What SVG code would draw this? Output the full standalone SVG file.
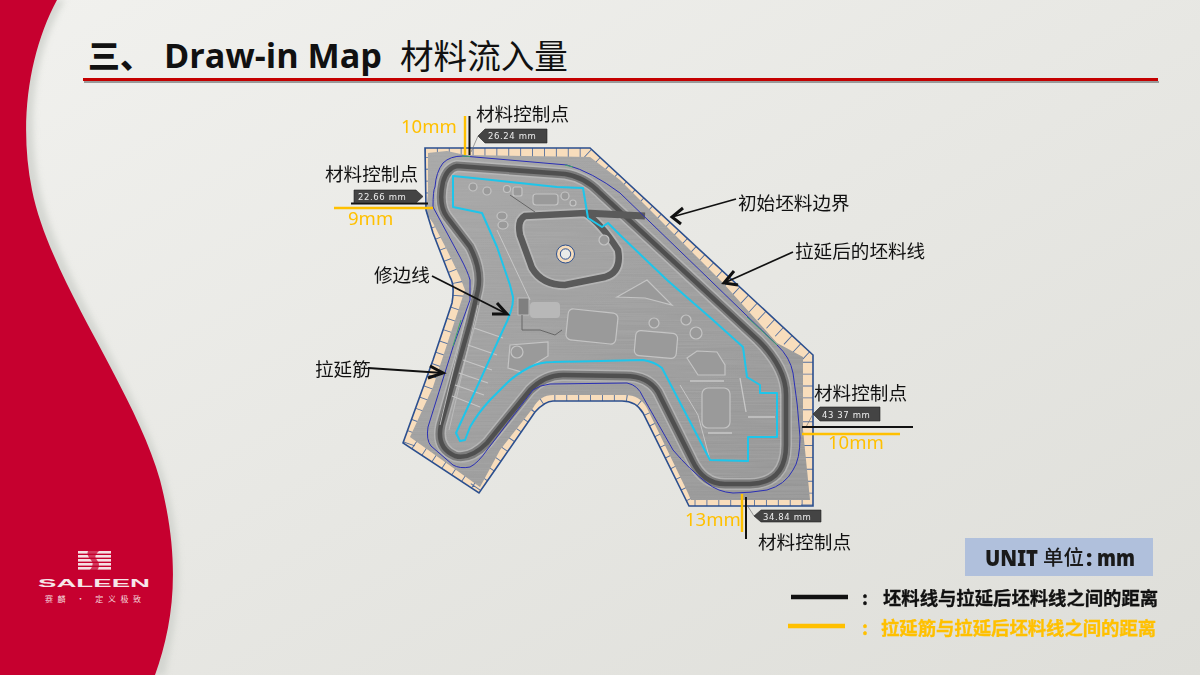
<svg xmlns="http://www.w3.org/2000/svg" xmlns:xlink="http://www.w3.org/1999/xlink" width="1200" height="675" viewBox="0 0 1200 675">
<style>
text{font-family:"Liberation Sans","Noto Sans CJK SC",sans-serif}
.cn{font-family:"Noto Sans CJK SC",sans-serif;font-size:18.6px;fill:#111}
.dim{font-family:"Noto Sans","Noto Sans CJK SC",sans-serif;font-size:18.5px;fill:#ffc000}
.tag{fill:#444;stroke:#222;stroke-width:.6}
.tagt{font-family:"DejaVu Sans",sans-serif;font-size:8.5px;fill:#eee;letter-spacing:.6px}
.lead{stroke:#777;stroke-width:.7;fill:none}
.k{stroke:#111;stroke-width:2;fill:none}
.o{stroke:#ffc000;stroke-width:2.4;fill:none}
.ar{stroke:#111;stroke-width:1.8;fill:none}
.hd{stroke:#111;stroke-width:3;fill:none}
.leg{font-family:"Noto Sans CJK SC",sans-serif;font-size:18.35px;font-weight:700;stroke-width:.3}
.emb{fill:#9a9a9a;stroke:#c4c4c4;stroke-width:1.2}
.emd{fill:none;stroke:#666;stroke-width:1}
.grn{fill:none;stroke:#3fa66a;stroke-width:1}
.ut{font-family:"Noto Sans",sans-serif;font-size:22px;font-weight:900;fill:#1a1a1a}
</style>
<defs>
<linearGradient id="bg" x1="0" y1="0" x2="1" y2="1"><stop offset="0" stop-color="#f1f1ee"/><stop offset="1" stop-color="#deded9"/></linearGradient>
<linearGradient id="sheet" x1="0" y1="0" x2="1" y2="1"><stop offset="0" stop-color="#a8a8a8"/><stop offset="1" stop-color="#959595"/></linearGradient>
<filter id="brush" x="0" y="0" width="100%" height="100%"><feTurbulence type="fractalNoise" baseFrequency="0.012 0.7" numOctaves="2" seed="4" result="n"/><feColorMatrix in="n" type="matrix" values="0 0 0 0 .45  0 0 0 0 .45  0 0 0 0 .45  .6 0 0 0 -.16" result="c"/><feComposite in="c" in2="SourceGraphic" operator="in" result="t"/><feMerge><feMergeNode in="SourceGraphic"/><feMergeNode in="t"/></feMerge></filter>
<filter id="soft" x="-10%" y="-10%" width="120%" height="120%"><feGaussianBlur stdDeviation=".6"/></filter>
<filter id="soft1" x="-10%" y="-10%" width="120%" height="120%"><feGaussianBlur stdDeviation=".4"/></filter>
<filter id="soft2" x="-20%" y="-20%" width="140%" height="140%"><feGaussianBlur stdDeviation="3"/></filter>
<path id="outer" d="M425,148 L590,148 L813,355 L813,506 L689,506 L643,413 Q636,401 622,401 L553,401 Q545,401 535,412 L497,467 L479,493 L403,443 L433,360 L452,303 Q455,285 450,277 L433,233 L426,210 Z"/>
<path id="inner" d="M428,153 L447,151 L465,155 L590,157 L620,180 L723,283 L777,343 L803,357 L803,430 L810,500 L691,500 L688,493 L647,408 Q640,395 625,395 L553,395 Q540,395 533,408 L500,450 L480,487 L410,437 L433,387 L465,290 L460,277 L447,250 L433,223 L426,213 L428,193 Z"/>
<path id="bead" d="M457,166 L565,174 Q585,177 600,193 L700,286 L758,340 Q786,368 786,395 L786,445 Q786,483 750,484 L725,484 Q703,484 692,460 L658,392 Q648,376 625,376 L563,375 Q545,375 530,390 L487,443 Q470,460 455,456 Q436,448 441,425 L470,323 L478,290 Q482,270 470,247 L447,217 Q438,205 443,182 Q447,168 457,166 Z"/>
<path id="ring" d="M525,216 L585,213 Q600,222 618,250 Q622,272 605,277 L565,285 Q542,285 532,268 L520,235 Q517,220 525,216 Z"/>
<clipPath id="oc"><use xlink:href="#outer"/></clipPath>
<clipPath id="ic"><use xlink:href="#inner"/></clipPath>
</defs>
<rect width="1200" height="675" fill="url(#bg)"/>
<path d="M65,0 C35,50 25,120 40,190 C60,280 140,390 165,480 C190,570 175,625 165,675 L0,675 L0,0 Z" fill="#cfd1cc" filter="url(#soft2)" opacity=".8"/>
<path id="red" d="M57,0 C30,50 18,120 32,190 C50,280 135,390 160,480 C182,565 173,625 155,675 L0,675 L0,0 Z" fill="#c6002f"/>

<g id="logo">
<g fill="#f5dfe3"><rect x="78" y="551" width="33" height="2.6"/><rect x="78" y="555" width="33" height="2.6"/><rect x="78" y="559" width="33" height="2.6"/><rect x="78" y="563" width="33" height="2.6"/><rect x="78" y="567" width="33" height="2.6"/></g>
<path d="M88,551 L99,551 Q93,556 97,560 Q101,565 97,571 L89,571 Q95,565 91,560 Q86,555 88,551 Z" fill="#c6002f" opacity=".75"/>
<text x="38" y="587" textLength="112" lengthAdjust="spacingAndGlyphs" style="font-family:'Liberation Sans',sans-serif;font-size:11px;font-weight:700;fill:#f6e6e9">SALEEN</text>
<text x="45" y="602" style="font-family:'Noto Sans CJK SC',sans-serif;font-size:8px;fill:#f3d7dc" textLength="96">赛麟 · 定义极致</text>
</g>

<g id="title">
<text x="88" y="68" style="font-family:'Noto Sans CJK SC',sans-serif;font-size:32px;font-weight:900;fill:#111">三、</text>
<text x="164" y="68" textLength="218" lengthAdjust="spacingAndGlyphs" style="font-family:'Open Sans',sans-serif;font-size:34px;font-weight:700;fill:#111">Draw-in Map</text>
<text x="400" y="69" style="font-family:'Noto Sans CJK SC',sans-serif;font-size:33.6px;fill:#111">材料流入量</text>
<rect x="84" y="81" width="1075" height="2" fill="#9a9a9a"/>
<rect x="83" y="78" width="1075" height="3" fill="#c40000"/>
</g>

<g id="panel">
<use xlink:href="#outer" fill="#f8ddbc"/>
<g clip-path="url(#oc)"><use xlink:href="#outer" fill="none" stroke="#54709f" stroke-width="24" stroke-dasharray=".9 11"/></g>
<use xlink:href="#inner" fill="url(#sheet)" filter="url(#brush)"/>
<use xlink:href="#outer" fill="none" stroke="#2b4f8f" stroke-width="1.6"/>
<g clip-path="url(#ic)">
<g filter="url(#soft)">
<use xlink:href="#bead" fill="none" stroke="#c2c2c2" stroke-width="12" opacity=".6"/>
<use xlink:href="#bead" fill="none" stroke="#7d7d7d" stroke-width="9"/>
<use xlink:href="#bead" fill="none" stroke="#505050" stroke-width="4.5"/>
<use xlink:href="#ring" fill="none" stroke="#c2c2c2" stroke-width="10" opacity=".6"/>
<use xlink:href="#ring" fill="none" stroke="#5a5a5a" stroke-width="6.5"/>
<path d="M585,213 L645,216" stroke="#5a5a5a" stroke-width="7" fill="none"/>
<path d="M470,300 L440,425 M478,305 L449,430" stroke="#bbb" stroke-width="1" fill="none"/>
</g>
<g id="emboss" filter="url(#soft1)">
<rect x="533" y="194" width="25" height="11" rx="3" class="emb"/>
<circle cx="473" cy="187" r="4" class="emb"/><circle cx="487" cy="191" r="4" class="emb"/><circle cx="507" cy="189" r="3.5" class="emb"/><rect x="513" y="187" width="9" height="9" rx="2" class="emb"/>
<circle cx="565" cy="196" r="4" class="emb"/><circle cx="573" cy="203" r="3" class="emb"/>
<ellipse cx="502" cy="216" rx="5" ry="4" class="emb"/><ellipse cx="503" cy="225" rx="5" ry="4" class="emb"/>
<circle cx="604" cy="240" r="5" class="emb"/>
<rect x="518" y="298" width="11" height="17" fill="#7f7f7f" stroke="#bbb"/>
<rect x="530" y="302" width="30" height="16" rx="4" fill="#b8b8b8" filter="url(#soft)"/>
<path d="M522,315 L522,330 L540,330 L555,335 L562,330" class="emd"/>
<rect x="567" y="311" width="50" height="31" rx="5" class="emb" transform="rotate(6 592 326)"/>
<rect x="635" y="332" width="42" height="25" rx="5" class="emb" transform="rotate(5 656 344)"/>
<path d="M617,297 L647,280 L672,305 L645,298 Z" class="emb"/>
<circle cx="654" cy="323" r="5" class="emb"/><circle cx="686" cy="320" r="5" class="emb"/><circle cx="696" cy="333" r="6" class="emb"/>
<path d="M687,358 L697,351 L717,352 L725,365 L725,375 L698,375 Z" class="emb"/>
<rect x="702" y="388" width="28" height="40" rx="6" class="emb"/>
<path d="M690,381 L724,381 M708,433 L732,433 M740,378 L746,412 M748,417 L775,417" stroke="#c8c8c8" stroke-width="1.3" fill="none"/>
<path d="M510,345 L548,342 L548,356 L522,372 L508,368 Z" class="emb"/><circle cx="517" cy="352" r="6" class="emb"/>
<path d="M452,396 L480,407 M455,385 L484,395 M459,373 L488,383 M463,360 L492,370 M468,345 L497,355 M474,328 L503,338" stroke="#c6c6c6" stroke-width="1.1" fill="none"/>
<path d="M497,230 L530,300 M710,460 L698,415 L680,385" stroke="#d0d0d0" stroke-width=".8" fill="none"/>
<path d="M510,195 L535,212" class="emd"/>
</g>
</g>
<path id="blue" d="M433,207 Q433,190 435,187 Q436,172 443,163 Q450,156 463,156 L567,165 Q592,172 620,193 L710,280 L777,345 Q790,357 793,373 Q798,405 800,437 Q800,460 793,470 Q785,485 767,490 Q750,493 733,493 Q718,492 707,483 Q690,470 673,450 L643,397 Q638,385 627,383 L550,384 Q540,385 533,390 L487,450 Q478,463 470,467 Q460,469 453,465 L431,446 Q426,440 428,427 L453,347 L470,300 L470,280 Q468,272 460,257 Z" fill="none" stroke="#2a2fb5" stroke-width="1"/>
<path class="grn" d="M462,156L470,156.500M565,165L573,167M747,317L777,345M461,320L453,346"/>
<path d="M453,176 L473,178 L557,187 L583,188 L588,218 L602,227 L608,223 L620,235 L667,280 L713,320 L743,347 L747,377 L760,385 L760,393 L777,393 L777,437 L748,437 L748,461 L710,460 L662,368 Q655,362 643,360 L553,362 Q540,362 530,367 Q515,375 507,383 L490,400 Q478,413 470,427 L465,440 L460,441 L456,433 L503,330 Q514,308 513,297 L510,285 L497,247 L482,213 L453,207 Z" fill="none" stroke="#1ec5ea" stroke-width="2" stroke-linejoin="round"/>
<g id="hole"><circle cx="565.5" cy="254" r="9" fill="#f6dcba" stroke="#2b4f8f" stroke-width="1"/><circle cx="565.5" cy="254" r="5.2" fill="#e9ebe9" stroke="#2b4f8f" stroke-width="1"/></g>
</g>

<g id="dim-top">
<path class="o" d="M465,116V155"/><path class="k" d="M469.500,116V155"/>
<path class="lead" d="M478,136L471,152"/>
<text class="cn" x="476" y="121">材料控制点</text>
<text class="dim" x="401" y="133">10mm</text>
<path class="tag" d="M485,129H547V143H485L478,136Z"/><text class="tagt" x="488" y="139">26.24 mm</text>
</g>
<g id="dim-left">
<path class="o" d="M334,208H433"/><path class="k" d="M351,203.500H428"/>
<text class="cn" x="325" y="181">材料控制点</text>
<text class="dim" x="348" y="225">9mm</text>
<path class="tag" d="M354,190H416L423,196.500L416,203H354Z"/><text class="tagt" x="358" y="199.500">22.66 mm</text>
</g>
<g id="dim-right">
<path class="lead" d="M813,414L806,427"/>
<path class="k" d="M802,427H913"/><path class="o" d="M802,434H900"/>
<text class="cn" x="814" y="400">材料控制点</text>
<text class="dim" x="828" y="449">10mm</text>
<path class="tag" d="M820,407H880V421H820L813,414Z"/><text class="tagt" x="822" y="418">43 37 mm</text>
</g>
<g id="dim-bottom">
<path class="lead" d="M754,516L747,505"/>
<path class="o" d="M742,494V532"/><path class="k" d="M746,497V539"/>
<text class="cn" x="758" y="549">材料控制点</text>
<text class="dim" x="685" y="526">13mm</text>
<path class="tag" d="M761,510H821V522H761L754,516Z"/><text class="tagt" x="763" y="519.500">34.84 mm</text>
</g>

<g id="connectors">
<path class="ar" d="M736,199 L672,217"/><path class="hd" d="M683,208 L672,217 L681,224"/>
<path class="ar" d="M793,252 L724,283"/><path class="hd" d="M734,271 L724,283 L738,285"/>
<path class="ar" d="M432,276 L507,314"/><path class="hd" d="M497,303 L507,314 L492,314"/>
<path class="ar" d="M368,368 L443,373"/><path class="hd" d="M430,366 L443,373 L428,378"/>
</g>
<text class="cn" x="738" y="210">初始坯料边界</text>
<text class="cn" x="795" y="258">拉延后的坯料线</text>
<text class="cn" x="374" y="282">修边线</text>
<text class="cn" x="315" y="376">拉延筋</text>

<g id="unit">
<rect x="965" y="538" width="188" height="38" fill="#b0c0dc"/>
<text class="ut" x="985" y="566" textLength="53" lengthAdjust="spacingAndGlyphs">UNIT</text>
<text x="1043" y="565" style="font-family:'Noto Sans CJK SC',sans-serif;font-size:20.5px;font-weight:500;fill:#1a1a1a">单位</text>
<text class="ut" x="1086" y="566">:</text>
<text class="ut" x="1097" y="566" textLength="38" lengthAdjust="spacingAndGlyphs">mm</text>
</g>
<g id="legend">
<path d="M791,597H848" stroke="#111" stroke-width="4.5"/>
<path d="M788,626H845" stroke="#ffc000" stroke-width="4.5"/>
<text class="leg" x="862" y="605" fill="#111" stroke="#111">:</text>
<text class="leg" x="883" y="605" fill="#111" stroke="#111">坯料线与拉延后坯料线之间的距离</text>
<text class="leg" x="862" y="635" fill="#ffc000" stroke="#ffc000">:</text>
<text class="leg" x="881" y="635" fill="#ffc000" stroke="#ffc000">拉延筋与拉延后坯料线之间的距离</text>
</g>
</svg>
